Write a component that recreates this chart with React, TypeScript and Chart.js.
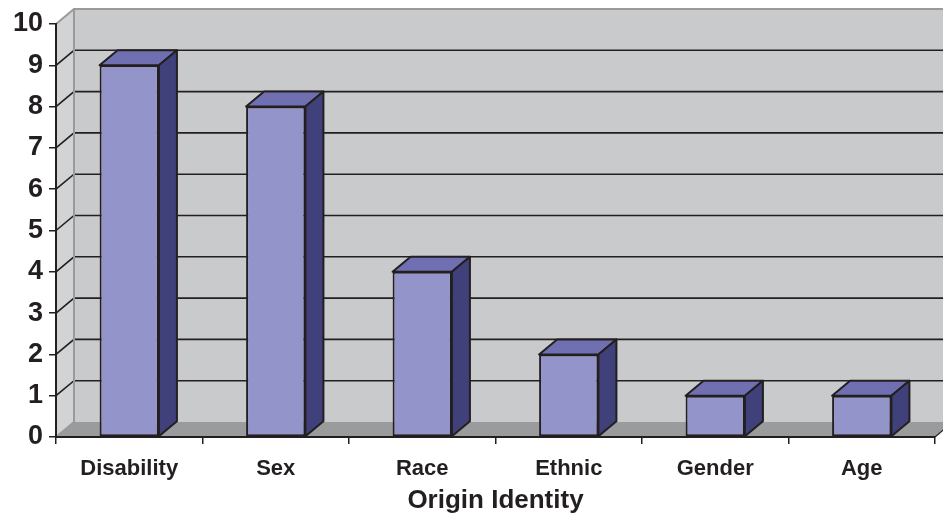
import React, { useEffect, useRef } from "react";
import { Chart, registerables } from "chart.js";

Chart.register(...registerables);

const categories = ["Disability", "Sex", "Race", "Ethnic", "Gender", "Age"];
const values = [9, 8, 4, 2, 1, 1];
const yTicks = [0, 1, 2, 3, 4, 5, 6, 7, 8, 9, 10];
const axisTitle = "Origin Identity";

const DX = 18;
const DY = -15;
const INK = "#231f20";
const FRONT = "#9394c9";
const TOP = "#6f6fb2";
const SIDE = "#40407a";
const WALL = "#c9cacc";
const SIDEWALL = "#d2d3d5";
const FLOOR = "#9a9b9d";
const EDGE = "#9a9a9a";

const threeD = {
  id: "threeD",
  beforeDraw(chart: any) {
    const { ctx, chartArea, width } = chart;
    const y = chart.scales.y;
    const L = chartArea.left;
    const R = chartArea.right;
    const B = y.getPixelForValue(0);
    const T = y.getPixelForValue(10);
    ctx.save();
    ctx.fillStyle = WALL;
    ctx.fillRect(L + DX, T + DY, width - (L + DX), B - T);
    ctx.fillStyle = SIDEWALL;
    ctx.beginPath();
    ctx.moveTo(L, B);
    ctx.lineTo(L + DX, B + DY);
    ctx.lineTo(L + DX, T + DY);
    ctx.lineTo(L, T);
    ctx.closePath();
    ctx.fill();
    ctx.fillStyle = FLOOR;
    ctx.beginPath();
    ctx.moveTo(L, B);
    ctx.lineTo(R, B);
    ctx.lineTo(R + DX, B + DY);
    ctx.lineTo(L + DX, B + DY);
    ctx.closePath();
    ctx.fill();
    yTicks.forEach((v) => {
      const py = y.getPixelForValue(v);
      const edge = v === 0 || v === 10;
      ctx.strokeStyle = edge ? EDGE : INK;
      ctx.lineWidth = edge ? 2 : 1.6;
      ctx.beginPath();
      ctx.moveTo(L, py);
      ctx.lineTo(L + DX, py + DY);
      if (v !== 0) ctx.lineTo(width, py + DY);
      ctx.stroke();
    });
    ctx.strokeStyle = EDGE;
    ctx.lineWidth = 2;
    ctx.beginPath();
    ctx.moveTo(L + DX, T + DY);
    ctx.lineTo(L + DX, B + DY);
    ctx.stroke();
    ctx.strokeStyle = INK;
    ctx.lineWidth = 1.2;
    ctx.beginPath();
    ctx.moveTo(R, B);
    ctx.lineTo(R + DX, B + DY);
    ctx.stroke();
    ctx.restore();
  },
  afterDatasetsDraw(chart: any) {
    const { ctx } = chart;
    const meta = chart.getDatasetMeta(0);
    ctx.save();
    ctx.lineJoin = "round";
    ctx.strokeStyle = INK;
    ctx.lineWidth = 2;
    meta.data.forEach((bar: any) => {
      const { x, y, base, width } = bar.getProps(["x", "y", "base", "width"], true);
      const l = x - width / 2;
      const r = x + width / 2;
      ctx.fillStyle = TOP;
      ctx.beginPath();
      ctx.moveTo(l, y);
      ctx.lineTo(l + DX, y + DY);
      ctx.lineTo(r + DX, y + DY);
      ctx.lineTo(r, y);
      ctx.closePath();
      ctx.fill();
      ctx.stroke();
      ctx.fillStyle = SIDE;
      ctx.beginPath();
      ctx.moveTo(r, y);
      ctx.lineTo(r + DX, y + DY);
      ctx.lineTo(r + DX, base + DY);
      ctx.lineTo(r, base);
      ctx.closePath();
      ctx.fill();
      ctx.stroke();
    });
    ctx.restore();
  },
};

export default function App() {
  const ref = useRef<HTMLCanvasElement | null>(null);
  useEffect(() => {
    document.body.style.margin = "0";
    document.body.style.overflow = "hidden";
    const canvas = ref.current!;
    const family = "'Liberation Sans', Arial, sans-serif";
    const chart = new Chart(canvas, {
      type: "bar",
      data: {
        labels: categories,
        datasets: [
          {
            data: values,
            backgroundColor: FRONT,
            borderColor: INK,
            borderWidth: 2,
            borderSkipped: false,
            barPercentage: 0.405,
            categoryPercentage: 1,
          },
        ],
      },
      options: {
        responsive: false,
        animation: false,
        devicePixelRatio: 1,
        layout: { padding: { top: 24, right: 8, left: 0, bottom: 0 } },
        plugins: { legend: { display: false }, tooltip: { enabled: false } },
        scales: {
          x: {
            type: "category",
            offset: true,
            grid: {
              offset: true,
              drawOnChartArea: false,
              tickLength: 7,
              color: INK,
              lineWidth: 1.5,
            },
            border: { color: INK, width: 2 },
            ticks: {
              color: INK,
              padding: 12,
              maxRotation: 0,
              font: { family, size: 22, weight: "bold" },
            },
            title: {
              display: true,
              text: axisTitle,
              color: INK,
              font: { family, size: 26, weight: "bold", lineHeight: 1.05 },
              padding: { top: 0, bottom: 0 },
            },
            afterFit(scale: any) {
              scale.height = 77;
            },
          },
          y: {
            min: 0,
            max: 10,
            grid: {
              drawOnChartArea: false,
              tickLength: 7,
              color: INK,
              lineWidth: 1.5,
            },
            border: { color: INK, width: 2 },
            ticks: {
              stepSize: 1,
              color: INK,
              padding: 6,
              font: { family, size: 27, weight: "bold" },
            },
            afterFit(scale: any) {
              scale.width = 56;
            },
          },
        },
      },
      plugins: [threeD],
    });
    return () => chart.destroy();
  }, []);
  return <canvas ref={ref} width={943} height={514} style={{ display: "block" }} />;
}
